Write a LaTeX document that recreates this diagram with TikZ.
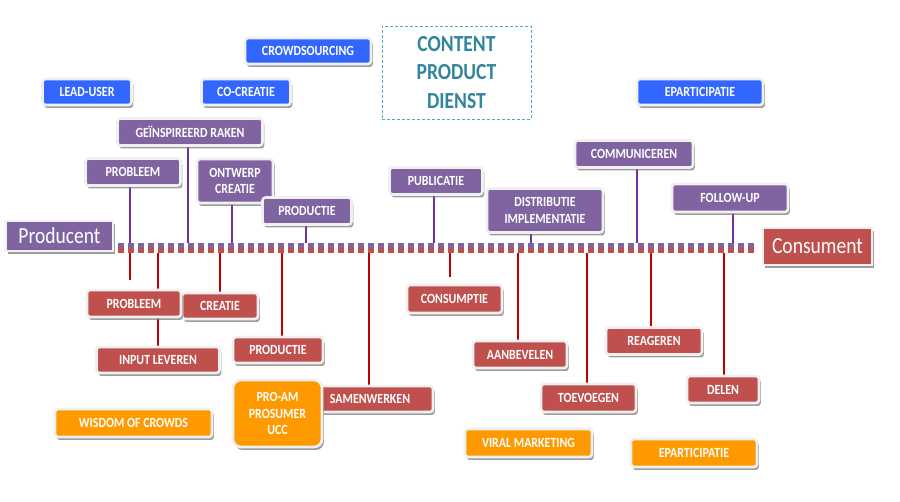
\documentclass[tikz,border=0pt]{standalone}
\usepackage{fontspec}
\setmainfont{Carlito}[FakeStretch=0.85]
\usetikzlibrary{calc}
\usetikzlibrary{shadows}
\usetikzlibrary{backgrounds}
\definecolor{webblue}{HTML}{3366FF}
\definecolor{prodpurple}{HTML}{8064A2}
\definecolor{consred}{HTML}{C0504D}
\definecolor{termorange}{HTML}{FF9900}
\definecolor{plinecol}{HTML}{7030A0}
\definecolor{rlinecol}{HTML}{C00000}
\definecolor{tealtext}{HTML}{31859C}
\definecolor{tealrim}{HTML}{4BACC6}
\definecolor{rim}{HTML}{F0F0F0}

\begin{document}
\begin{tikzpicture}[x=1pt,y=-1pt,
  box/.style={draw=rim, line width=2.6pt, rounded corners=3pt, text=white, inner sep=0pt, align=center,
    font=\bfseries\fontsize{14}{16.5}\selectfont,
    drop shadow={shadow xshift=1.8pt, shadow yshift=-3pt, fill=black!55, opacity=.7}},
  webbox/.style={box, fill=webblue},
  prodbox/.style={box, fill=prodpurple},
  consbox/.style={box, fill=consred},
  termbox/.style={box, fill=termorange},
  sidebox/.style={box, rounded corners=0pt, font=\fontsize{23}{24}\selectfont},
  pline/.style={plinecol, line width=1.4pt},
  rline/.style={rlinecol, line width=2pt}]
\useasboundingbox (0,0) rectangle (900,502);

\node[draw=tealrim, line width=.9pt, dash pattern=on 3pt off 2pt, minimum width=149pt, minimum height=93pt,
  text=tealtext, align=center, font=\bfseries\fontsize{23}{28.5}\selectfont] (content) at (456.5,72.5) {CONTENT\\PRODUCT\\DIENST};

\node[webbox, minimum width=126pt, minimum height=26pt] (crowd) at (308,51) {CROWDSOURCING};
\node[webbox, minimum width=89pt, minimum height=26pt] (lead) at (87,92) {LEAD-USER};
\node[webbox, minimum width=89pt, minimum height=26pt] (cocre) at (246,92) {CO-CREATIE};
\node[webbox, minimum width=126pt, minimum height=26pt] (epartB) at (700,92) {EPARTICIPATIE};

\node[prodbox, minimum width=145pt, minimum height=27pt] (gein) at (190,132) {GEÏNSPIREERD RAKEN};
\node[prodbox, minimum width=95pt, minimum height=27pt] (probP) at (133,172) {PROBLEEM};
\node[prodbox, minimum width=76pt, minimum height=44pt] (ontw) at (235,181) {ONTWERP\\CREATIE};
\node[prodbox, minimum width=89pt, minimum height=27pt] (prodP) at (307,211) {PRODUCTIE};
\node[prodbox, minimum width=93pt, minimum height=27pt] (publ) at (436,181) {PUBLICATIE};
\node[prodbox, minimum width=116pt, minimum height=44pt] (distr) at (545,210.5) {DISTRIBUTIE\\IMPLEMENTATIE};
\node[prodbox, minimum width=118pt, minimum height=27pt] (comm) at (634,154) {COMMUNICEREN};
\node[prodbox, minimum width=116pt, minimum height=28pt] (foll) at (730,198) {FOLLOW-UP};

\node[sidebox, fill=prodpurple, minimum width=107pt, minimum height=30pt] (producent) at (59.5,236) {Producent};
\node[sidebox, fill=consred, minimum width=109pt, minimum height=37pt] (consument) at (817.5,246.5) {Consument};

\node[consbox, minimum width=76pt, minimum height=26pt] (creatie) at (220,306) {CREATIE};
\node[consbox, minimum width=94pt, minimum height=27pt] (probR) at (134,303.5) {PROBLEEM};
\node[consbox, minimum width=123pt, minimum height=26pt] (input) at (158,360) {INPUT LEVEREN};
\node[consbox, minimum width=90pt, minimum height=26pt] (prodR) at (278,350) {PRODUCTIE};
\node[consbox, minimum width=126pt, minimum height=26pt] (samen) at (370,399) {SAMENWERKEN};
\node[termbox, rounded corners=8pt, minimum width=89pt, minimum height=67pt] (proam) at (277.5,413.5) {PRO-AM\\PROSUMER\\UCC};
\node[termbox, minimum width=157pt, minimum height=28pt] (wisdom) at (133.5,423) {WISDOM OF CROWDS};
\node[consbox, minimum width=95pt, minimum height=28pt] (consump) at (454.5,299) {CONSUMPTIE};
\node[consbox, minimum width=94pt, minimum height=27pt] (aanbev) at (520,354.5) {AANBEVELEN};
\node[consbox, minimum width=95pt, minimum height=28pt] (toev) at (588.5,398) {TOEVOEGEN};
\node[consbox, minimum width=96pt, minimum height=27pt] (reag) at (654,341) {REAGEREN};
\node[consbox, minimum width=72pt, minimum height=27pt] (delen) at (723,389.5) {DELEN};
\node[termbox, minimum width=127pt, minimum height=28pt] (viral) at (528.5,443) {VIRAL MARKETING};
\node[termbox, minimum width=126pt, minimum height=28pt] (epartO) at (694,453) {EPARTICIPATIE};

\coordinate (tlL) at (118,248);
\coordinate (tlR) at (756,248);
\coordinate (tlTop) at (0,243);
\coordinate (tlBot) at (0,253);
\coordinate (stubA) at (130,280);
\coordinate (stubB) at (450,277);

\begin{scope}[on background layer]
\foreach \n/\dx in {probP/-3,gein/-2,ontw/-3,prodP/-1,publ/-2,distr/-14,comm/3,foll/3}
  \draw[pline] ($(\n.center)+(\dx,0)$) -- ($(\n.center |- tlTop)+(\dx,0)$);
\foreach \n/\dx in {creatie/0,input/0,prodR/4,samen/-1,aanbev/-2,toev/-2,reag/-3,delen/1}
  \draw[rline] ($(\n.center |- tlBot)+(\dx,0)$) -- ($(\n.center)+(\dx,0)$);
\draw[rline, line width=1.2pt] (stubA |- tlBot) -- (stubA);
\draw[rline, line width=1.2pt] (stubB |- tlBot) -- (stubB);
\draw[prodpurple, line width=5pt, dash pattern=on 6pt off 4pt] ([yshift=2.5pt]tlL) -- ([yshift=2.5pt]tlR);
\draw[consred, line width=5pt, dash pattern=on 6pt off 4pt] ([yshift=-2.5pt]tlL) -- ([yshift=-2.5pt]tlR);
\end{scope}
\end{tikzpicture}
\end{document}
